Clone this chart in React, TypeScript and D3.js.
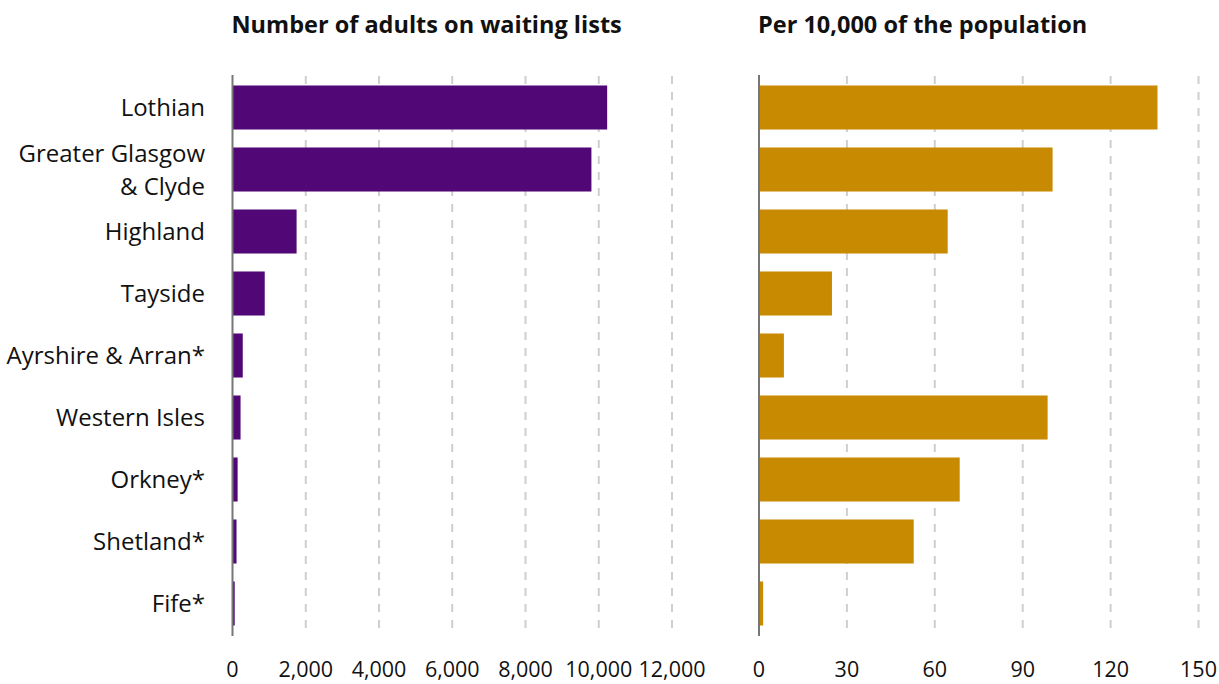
import React from "react";
import * as d3 from "d3";

const categories = ["Lothian", "Greater Glasgow\n& Clyde", "Highland", "Tayside", "Ayrshire & Arran*", "Western Isles", "Orkney*", "Shetland*", "Fife*"];
const adults = [10230, 9800, 1750, 880, 280, 220, 140, 110, 60];
const per10k = [136, 100.2, 64.4, 24.9, 8.5, 98.5, 68.5, 52.8, 1.4];
const leftTicks = [0, 2000, 4000, 6000, 8000, 10000, 12000];
const rightTicks = [0, 30, 60, 90, 120, 150];
const leftTitle = "Number of adults on waiting lists";
const rightTitle = "Per 10,000 of the population";

const FONT = "'Open Sans', 'DejaVu Sans', sans-serif";

export default function App() {
  const W = 1219, H = 684;
  const y = d3.scaleBand<string>().domain(categories).range([76.5, 634.5]).paddingInner(0.29).paddingOuter(0.145);
  const xL = d3.scaleLinear().domain([0, 12000]).range([232.5, 672]);
  const xR = d3.scaleLinear().domain([0, 150]).range([759, 1198.5]);
  const fmt = d3.format(",");

  const panel = (x: d3.ScaleLinear<number, number>, vals: number[], ticks: number[], color: string, title: string) => (
    <g>
      <text x={x(0) - 1} y={33} fontSize={23.5} fontWeight={700} fill="#111" fontFamily={FONT}>{title}</text>
      {ticks.slice(1).map(t => (
        <line key={t} x1={x(t)} x2={x(t)} y1={76} y2={636} stroke="#cfcfcf" strokeWidth={2} strokeDasharray="8,8" />
      ))}
      {vals.map((v, i) => (
        <rect key={i} x={x(0)} y={y(categories[i])} width={x(v) - x(0)} height={y.bandwidth()} fill={color} />
      ))}
      <line x1={x(0)} x2={x(0)} y1={75} y2={636} stroke="#777" strokeWidth={2} />
      {ticks.map(t => (
        <text key={t} x={x(t)} y={677} fontSize={21.5} textAnchor="middle" fill="#111" fontFamily={FONT}>{fmt(t)}</text>
      ))}
    </g>
  );

  return (
    <svg width={W} height={H} style={{ position: "absolute", left: 0, top: 0, background: "#fff" }}>
      {categories.map(c => {
        const lines = c.split("\n");
        const cy = (y(c) as number) + y.bandwidth() / 2;
        const lh = 33;
        return (
          <text key={c} x={205} fontSize={24} textAnchor="end" fill="#111" fontFamily={FONT}>
            {lines.map((l, j) => (
              <tspan key={j} x={205} y={cy + 8.5 + (j - (lines.length - 1) / 2) * lh}>{l}</tspan>
            ))}
          </text>
        );
      })}
      {panel(xL, adults, leftTicks, "#510776", leftTitle)}
      {panel(xR, per10k, rightTicks, "#c88a00", rightTitle)}
    </svg>
  );
}
